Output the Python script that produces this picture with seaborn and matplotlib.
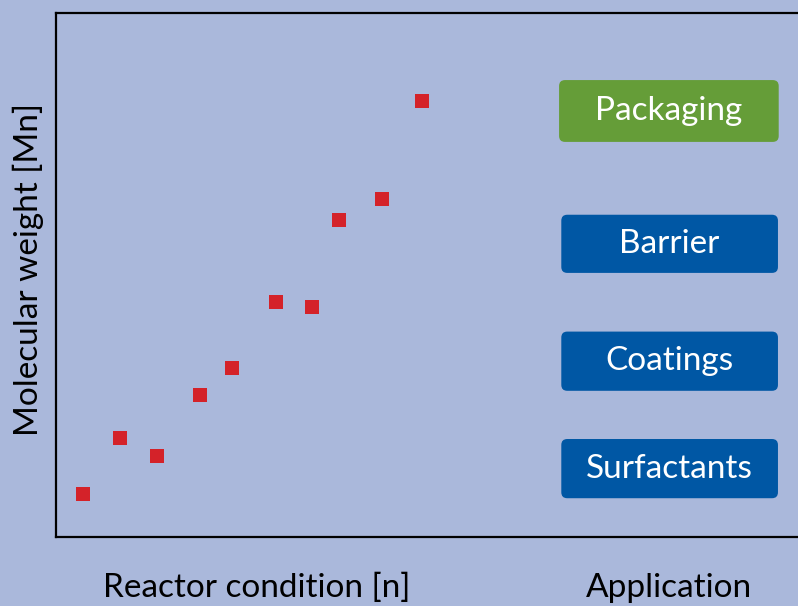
import matplotlib
matplotlib.use("Agg")
import matplotlib.pyplot as plt
from matplotlib.patches import FancyBboxPatch
import pandas as pd
import seaborn as sns

# reactor condition vs molecular weight (arbitrary units)
condition = [3.6, 8.6, 13.6, 19.4, 23.7, 29.6, 34.5, 38.1, 43.9, 49.3]
mol_weight = [8.2, 18.9, 15.5, 27.1, 32.3, 44.8, 43.9, 60.5, 64.5, 83.2]

applications = ['Packaging', 'Barrier', 'Coatings', 'Surfactants']
app_colors = ['#659D38', '#0057A4', '#0057A4', '#0057A4']

bg = '#AAB8DB'
font = 'Lato'

sns.set_style('white', {'axes.facecolor': bg, 'figure.facecolor': bg})
plt.rcParams['font.family'] = [font, 'DejaVu Sans']

data = pd.DataFrame({'n': condition, 'Mn': mol_weight})

fig = plt.figure(figsize=(7.98, 6.06), dpi=100)
ax = fig.add_axes([56 / 798, 69 / 606, 742 / 798, 524 / 606])

sns.scatterplot(x='n', y='Mn', data=data, marker='s', s=100, color='#D42229',
                linewidth=0, ax=ax)
ax.set_xlim(0, 100)
ax.set_ylim(0, 100)
ax.set_xticks([])
ax.set_yticks([])
ax.set_xlabel('')
ax.set_ylabel('')
for side in ['left', 'top', 'bottom']:
    ax.spines[side].set_color('black')
    ax.spines[side].set_linewidth(1.6)
ax.spines['right'].set_visible(False)

# application boxes (axes fraction)
box_left = [0.678, 0.681, 0.681, 0.681]
box_width = [0.296, 0.292, 0.292, 0.292]
box_bottom = [0.754, 0.504, 0.279, 0.074]
box_height = [0.118, 0.111, 0.113, 0.113]
for name, col, x0, w, y0, h in zip(applications, app_colors, box_left, box_width,
                                   box_bottom, box_height):
    patch = FancyBboxPatch((x0, y0), w, h, boxstyle='round,pad=0,rounding_size=0.008',
                           mutation_aspect=742 / 524, transform=ax.transAxes,
                           facecolor=col, edgecolor='none', clip_on=False)
    ax.add_patch(patch)
    ax.text(x0 + w / 2, y0 + h / 2, name, transform=ax.transAxes, ha='center',
            va='center', color='white', fontsize=24)

fig.text(257 / 798, 1 - 588 / 606, 'Reactor condition [n]', ha='center', va='center',
         fontsize=24, color='black')
fig.text(669 / 798, 1 - 588 / 606, 'Application', ha='center', va='center',
         fontsize=24, color='black')
fig.text(28 / 798, 1 - 270 / 606, 'Molecular weight [Mn]', ha='center', va='center',
         rotation=90, fontsize=24, color='black')

fig.savefig('out.png', dpi=100, facecolor=bg)
